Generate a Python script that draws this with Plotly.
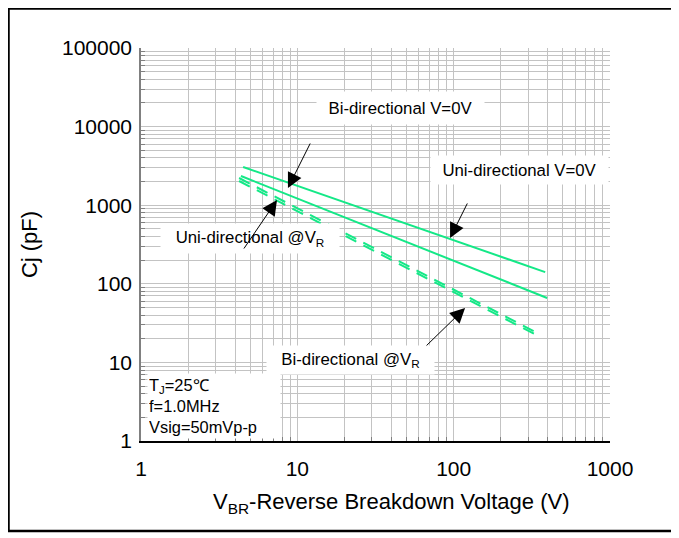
import math
import plotly.graph_objects as go

# ---- data ----
volts_uni_0v = [4.5, 385]
cap_uni_0v = [3060, 141]

volts_bi_0v = [4.36, 396]
cap_bi_0v = [2350, 66]

volts_uni_vr = [4.24, 341]
cap_uni_vr = [2218, 23.7]

volts_bi_vr = [4.24, 347]
cap_bi_vr = [2032, 21.7]

x_tick_vals = [1, 10, 100, 1000]
x_tick_text = ["1", "10", "100", "1000"]
y_tick_vals = [1, 10, 100, 1000, 10000, 100000]
y_tick_text = ["1", "10", "100", "1000", "10000", "100000"]

x_minor = [m * 10 ** d for d in range(3) for m in range(2, 10)]
y_minor = [m * 10 ** d for d in range(5) for m in range(2, 10)]

GREEN = "#14E887"
GRID = "#C3C3C3"
FONT = "Arial, Liberation Sans, sans-serif"

# page is offset by the default 8px body margin
FIG_W, FIG_H = 671, 530
PL, PT, PR, PB = 133, 40, 602, 433  # plot box in figure pixels

fig = go.Figure()
fig.add_trace(go.Scatter(x=volts_uni_0v, y=cap_uni_0v, mode="lines",
                         line=dict(color=GREEN, width=2), name="Uni-directional V=0V"))
fig.add_trace(go.Scatter(x=volts_bi_0v, y=cap_bi_0v, mode="lines",
                         line=dict(color=GREEN, width=2), name="Bi-directional V=0V"))
fig.add_trace(go.Scatter(x=volts_uni_vr, y=cap_uni_vr, mode="lines",
                         line=dict(color=GREEN, width=2, dash="12px,8px"), name="Uni-directional @VR"))
fig.add_trace(go.Scatter(x=volts_bi_vr, y=cap_bi_vr, mode="lines",
                         line=dict(color=GREEN, width=2, dash="12px,8px"), name="Bi-directional @VR"))

ann_font = dict(family=FONT, size=16.8, color="black")
cond_font = dict(family=FONT, size=16.4, color="black")

annotations = []
annotations.append(dict(x=1.657, y=4.237, xref="x", yref="y", text="Bi-directional V=0V",
                        showarrow=False, bgcolor="white", width=165, height=30, font=ann_font))
annotations.append(dict(x=2.418, y=3.448, xref="x", yref="y", text="Uni-directional V=0V",
                        showarrow=False, bgcolor="white", width=175, height=26, font=ann_font))
annotations.append(dict(x=0.697, y=2.576, xref="x", yref="y", text="Uni-directional @V<sub>R</sub>",
                        showarrow=False, bgcolor="white", width=176, height=27, font=ann_font))
annotations.append(dict(x=1.340, y=1.031, xref="x", yref="y", text="Bi-directional @V<sub>R</sub>",
                        showarrow=False, bgcolor="white", width=165, height=26, font=ann_font))
annotations.append(dict(x=0.038, y=0.865, xref="x", yref="y", xanchor="left", yanchor="top",
                        text="T<sub>J</sub>=25℃<br>f=1.0MHz<br>Vsig=50mVp-p", align="left",
                        showarrow=False, bgcolor="white", width=130, height=62, font=cond_font))

# x-axis title (placed as in the reference, slightly right of centre)
annotations.append(dict(x=(383 - PL) / (PR - PL), y=(PB - 495) / (PB - PT), xref="paper", yref="paper",
                        xanchor="center", yanchor="middle", showarrow=False,
                        text="V<sub>BR</sub>-Reverse Breakdown Voltage (V)",
                        font=dict(size=22, family=FONT, color="black")))

# arrows (tip, tail) in log10 axis units
arrows = [
    ((0.940, 3.219), (1.087, 3.804)),
    ((1.977, 2.583), (2.092, 3.041)),
    ((0.870, 3.066), (0.652, 2.430)),
    ((2.073, 1.692), (1.817, 1.196)),
]
for (tx, ty), (sx, sy) in arrows:
    annotations.append(dict(x=tx, y=ty, xref="x", yref="y", ax=sx, ay=sy, axref="x", ayref="y",
                            text="", showarrow=True, arrowhead=2, arrowsize=3, arrowwidth=1,
                            arrowcolor="black", standoff=0, startstandoff=0))

pw, ph = PR - PL, PB - PT
fig.update_layout(
    width=FIG_W, height=FIG_H,
    margin=dict(l=PL, r=FIG_W - PR, t=PT, b=FIG_H - PB),
    paper_bgcolor="white", plot_bgcolor="white",
    showlegend=False,
    font=dict(family=FONT, color="black"),
    annotations=annotations,
    shapes=[dict(type="rect", xref="paper", yref="paper",
                 x0=(0.5 - PL) / pw, x1=(665 - PL) / pw,
                 y0=(PB - 523) / ph, y1=(PB - 0.5) / ph,
                 line=dict(color="black", width=2.5), fillcolor="rgba(0,0,0,0)", layer="above")],
)

fig.update_xaxes(
    type="log", range=[0, 3],
    tickmode="array", tickvals=x_tick_vals, ticktext=x_tick_text,
    tickfont=dict(size=21, family=FONT, color="black"),
    ticks="", ticklabelstandoff=8,
    showgrid=True, gridcolor=GRID, gridwidth=1.3,
    showline=True, linecolor="black", linewidth=2,
    zeroline=False,
    minor=dict(tickmode="array", tickvals=x_minor, showgrid=True, gridcolor=GRID, gridwidth=1.3,
               ticks="inside", ticklen=4, tickcolor="#808080"),
)
fig.update_yaxes(
    type="log", range=[0, 5],
    tickmode="array", tickvals=y_tick_vals, ticktext=y_tick_text,
    tickfont=dict(size=21, family=FONT, color="black"),
    ticks="", ticklabelstandoff=3,
    showgrid=True, gridcolor=GRID, gridwidth=1.3,
    showline=True, linecolor="#808080", linewidth=1.5,
    zeroline=False,
    minor=dict(tickmode="array", tickvals=y_minor, showgrid=True, gridcolor=GRID, gridwidth=1.3,
               ticks="inside", ticklen=4, tickcolor="#808080"),
    title=dict(text="Cj (pF)", font=dict(size=22, family=FONT, color="black"), standoff=18),
)

fig.write_html("out.html")
